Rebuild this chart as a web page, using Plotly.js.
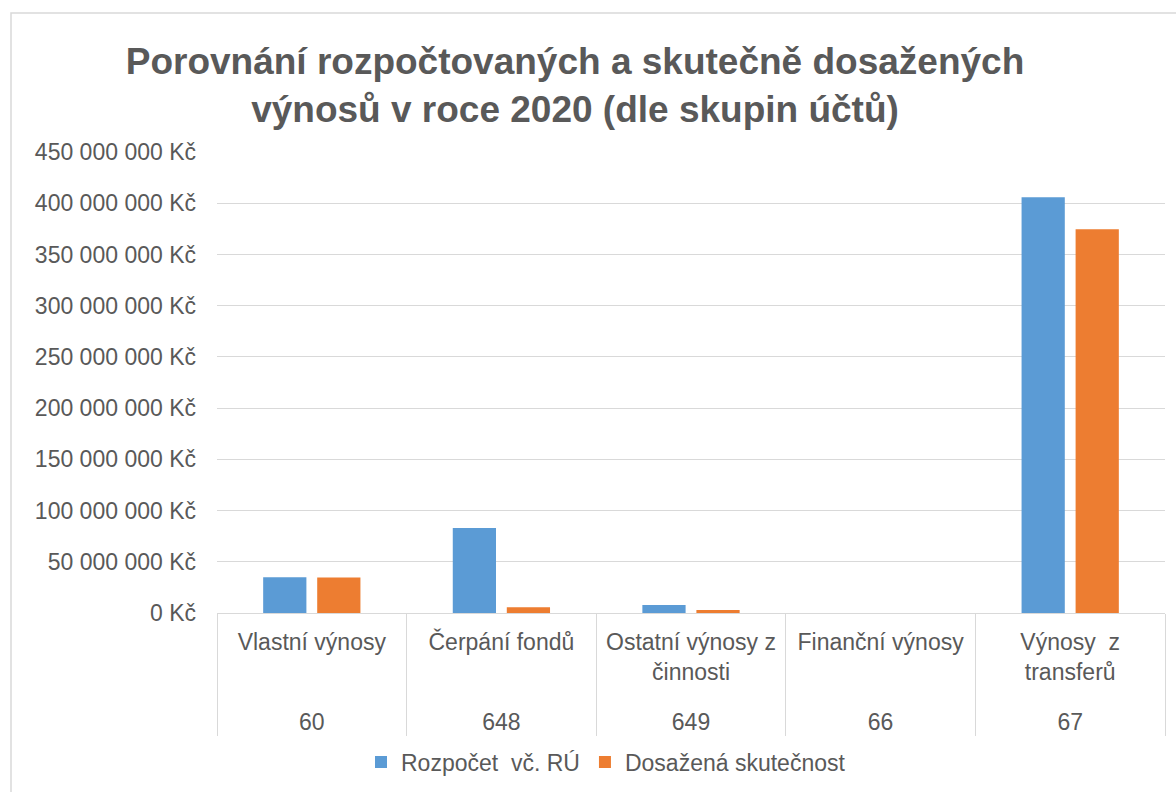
<!DOCTYPE html>
<html><head><meta charset="utf-8">
<script src="https://cdn.plot.ly/plotly-3.0.1.min.js"></script>
<style>html,body{margin:0;padding:0;background:#fff}#chart{width:1176px;height:792px}</style>
</head><body><div id="chart"></div>
<script>
const codes = ["60", "648", "649", "66", "67"];
const names = ["Vlastní výnosy", "Čerpání fondů", "Ostatní výnosy z<br>činnosti<br>\u00a0", "Finanční výnosy", "Výnosy \u00a0z<br>transferů<br>\u00a0"];
const budget = [34800000, 83000000, 7800000, 20000, 405800000];
const actual = [34700000, 5600000, 2900000, 40000, 374500000];
const seriesNames = ["Rozpočet \u00a0vč. RÚ", "Dosažená skutečnost"];

const font = "'Liberation Sans', Arial, sans-serif";
const grey = "#595959";
const traces = [
  {type:"bar", name:seriesNames[0], x:[codes, names], y:budget, marker:{color:"#5b9bd5"}},
  {type:"bar", name:seriesNames[1], x:[codes, names], y:actual, marker:{color:"#ed7d31"}}
];
const L = 217, R = 1165, T = 152, B = 613;
const W = R - L, H = B - T;
const layout = {
  width:1176, height:792,
  margin:{l:L, r:1176-R, t:T, b:792-B},
  paper_bgcolor:"#fff", plot_bgcolor:"#fff",
  separators:", ",
  font:{family:font, color:grey, size:23},
  title:{text:"<b>Porovnání rozpočtovaných a skutečně dosažených<br>výnosů v roce 2020 (dle skupin účtů)</b>",
    font:{size:37, color:grey, family:font}, x:575/1176, xanchor:"center", xref:"container",
    y:1-74/792, yanchor:"middle", yref:"container"},
  bargap:0.43, bargroupgap:0.2, barmode:"group",
  showlegend:true,
  legend:{orientation:"h", xref:"container", yref:"container", x:606/1176, xanchor:"center",
    y:1-762/792, yanchor:"middle", font:{size:23, color:grey}, traceorder:"normal"},
  xaxis:{type:"multicategory", showgrid:false, showline:true, linecolor:"#d9d9d9", linewidth:1,
    ticks:"", showdividers:true, dividercolor:"#d9d9d9", dividerwidth:1, ticklabelstandoff:8,
    tickfont:{size:23, color:grey}},
  yaxis:{range:[0,450000000], dtick:50000000, tick0:0, tickformat:",.0f", ticksuffix:" Kč",
    showgrid:true, gridcolor:"#d9d9d9", gridwidth:1, zeroline:true, zerolinecolor:"#d9d9d9",
    showline:false, ticks:"", ticklabelstandoff:20, tickfont:{size:23, color:grey}, fixedrange:true},
  shapes:[{type:"rect", xref:"paper", yref:"paper",
    x0:(11-L)/W, x1:(1190-L)/W, y0:(B-800)/H, y1:(B-13)/H,
    line:{color:"#d9d9d9", width:1.5}, fillcolor:"rgba(0,0,0,0)", layer:"below"}]
};
Plotly.newPlot("chart", traces, layout, {staticPlot:true, displayModeBar:false});
</script></body></html>
